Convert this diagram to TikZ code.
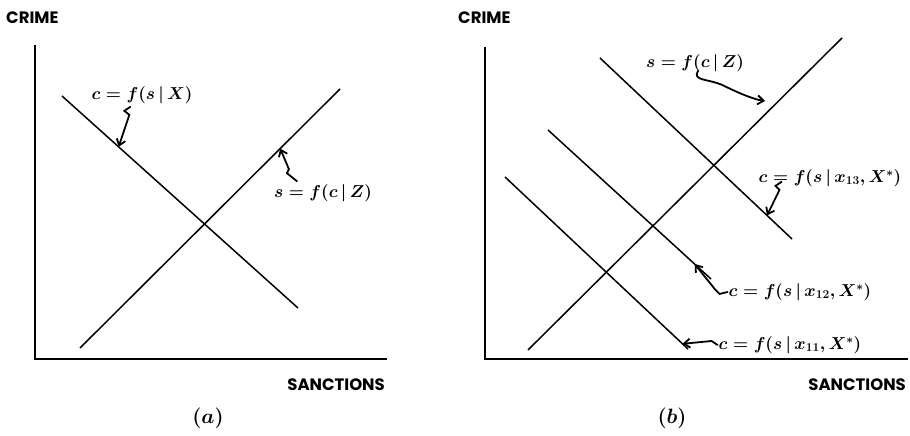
\documentclass[tikz,border=0pt]{standalone}
\usepackage{fontspec}
\setsansfont{Poppins}
\usepackage{tikz}
\usetikzlibrary{arrows.meta,calc,positioning}
\tikzset{
  axis/.style={line width=2pt},
  curve/.style={line width=1.5pt},
  tag/.style={inner sep=1pt,font=\boldmath\fontsize{17}{17}\selectfont},
  axlabel/.style={inner sep=0pt,font=\sffamily\bfseries\fontsize{16.5}{16.5}\selectfont},
  pointer/.style={line width=1.8pt,line cap=round,-{Straight Barb[length=6pt,width=9pt]}}
}
\begin{document}
\begin{tikzpicture}[x=1pt,y=1pt]
    \useasboundingbox (0,0) rectangle (910,436);
    % panel (a)
    \coordinate (oa) at (35,77);
    \coordinate (ya) at (35,391);
    \coordinate (xa) at (387,77);
    \draw[axis] (ya) -- (oa) -- (xa);
    \node[axlabel,anchor=west] (crimea) at (6,418) {CRIME};
    \node[axlabel,anchor=east] (sanca) at (385,51) {SANCTIONS};
    \node[font=\boldmath\fontsize{21}{21}\selectfont] (capa) at (208,18) {$(a)$};
    \coordinate (ca1) at (62,340);
    \coordinate (ca2) at (298,128);
    \coordinate (sa1) at (80,88);
    \coordinate (sa2) at (340,347);
    \draw[curve] (ca1) -- (ca2);
    \draw[curve] (sa1) -- (sa2);
    \node[tag] (lcX) at (142,341) {$c=f(s\,|\,X)$};
    \node[tag] (lsZa) at (323,243) {$s=f(c\,|\,Z)$};
    \coordinate (hcX) at ($(ca1)!0.24!(ca2)$);
    \coordinate (hsZa) at ($(sa1)!0.77!(sa2)$);
    \draw[pointer] ($(lcX.south west)+(40,-2)$) -- ++(-6,-4) -- ++(5,-4) -- (hcX);
    \draw[pointer] ($(lsZa.north west)+(24,2)$) -- ++(-10,8) -- ++(2,4) -- (hsZa);
    % panel (b)
    \coordinate (ob) at (485,77);
    \coordinate (yb) at (485,389);
    \coordinate (xb) at (908,77);
    \draw[axis] (yb) -- (ob) -- (xb);
    \node[axlabel,anchor=west] (crimeb) at (458,418) {CRIME};
    \node[axlabel,anchor=east] (sancb) at (906,51) {SANCTIONS};
    \node[font=\boldmath\fontsize{21}{21}\selectfont] (capb) at (672,18) {$(b)$};
    \coordinate (sb1) at (528,86);
    \coordinate (sb2) at (842,398);
    \coordinate (cc1) at (600,378);
    \coordinate (cc2) at (792,197);
    \coordinate (cm1) at (548,306);
    \coordinate (cm2) at (711,157);
    \coordinate (cl1) at (505,259);
    \coordinate (cl2) at (688,87);
    \draw[curve] (sb1) -- (sb2);
    \draw[curve] (cc1) -- (cc2);
    \draw[curve] (cm1) -- (cm2);
    \draw[curve] (cl1) -- (cl2);
    \node[tag] (lsZb) at (695,373) {$s=f(c\,|\,Z)$};
    \node[tag] (lc13) at (830,258) {$c=f(s\,|\,x_{13},X^{*})$};
    \node[tag] (lc12) at (800,144) {$c=f(s\,|\,x_{12},X^{*})$};
    \node[tag] (lc11) at (790,91) {$c=f(s\,|\,x_{11},X^{*})$};
    \coordinate (hsZb) at (765,335);
    \coordinate (hc13) at ($(cc1)!0.87!(cc2)$);
    \coordinate (hc12) at ($(cm1)!0.90!(cm2)$);
    \coordinate (hc11) at ($(cl1)!0.97!(cl2)$);
    \draw[pointer] ($(lsZb.south)+(3,2)$) .. controls +(-6,-10) and +(-14,6) .. +(24,-14) .. controls +(8,-4) and +(-14,2) .. (hsZb);
    \draw[pointer] ($(lc13.south west)+(24,6)$) -- ++(-6,-4) -- ++(4,-4) -- (hc13);
    \draw[pointer] (lc12.west) -- ++(-8,-2) -- ++(-4,4) -- (hc12);
    \draw[pointer] (lc11.west) -- ++(-6,4) -- (hc11);
\end{tikzpicture}
\end{document}
